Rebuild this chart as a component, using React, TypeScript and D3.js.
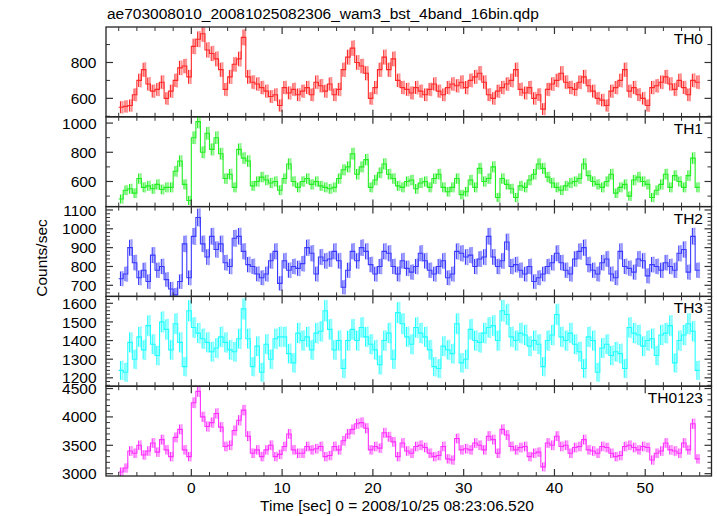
import React from 'react';
import * as d3 from 'd3';

const TITLE = 'ae703008010_20081025082306_wam3_bst_4band_16bin.qdp';
const X_LABEL = 'Time [sec] 0 = 2008/10/25 08:23:06.520';
const Y_LABEL = 'Counts/sec';
const BAND_NAMES = ['TH0', 'TH1', 'TH2', 'TH3', 'TH0123'];
const BIN_START = -8;
const BIN_WIDTH = 0.5;
const X_MAJOR_TICKS = [0, 10, 20, 30, 40, 50];

const TH0 = [550,555,560,620,700,760,680,640,650,690,600,640,700,770,780,720,890,930,960,870,850,820,760,650,720,790,820,940,720,690,680,660,640,610,620,560,660,630,650,620,640,660,620,690,670,640,680,620,650,760,830,880,800,
780,740,600,660,760,830,760,820,700,660,650,630,660,640,620,650,680,640,620,660,680,670,690,660,700,720,740,690,620,600,640,660,680,700,760,650,630,660,600,620,540,650,680,700,740,690,660,650,690,720,670,640,600,590,560,640,660,700,760,640,660,620,600,560,660,670,690,720,680,650,700,660,620,700,690];

const TH1 = [480,540,550,520,620,560,570,550,580,545,560,560,670,740,580,470,900,1010,800,930,820,900,790,620,650,560,820,760,740,570,600,630,610,590,600,540,620,720,600,560,600,620,580,600,570,560,550,560,620,680,700,790,650,
700,750,560,610,660,720,650,620,570,560,600,610,550,590,600,560,620,650,560,530,560,620,510,530,610,560,690,600,620,700,490,620,580,550,490,570,560,610,650,720,690,630,590,560,540,570,590,600,620,720,640,600,580,560,600,650,520,560,580,500,610,630,600,580,490,540,580,650,560,640,600,560,640,760,560];

const TH2 = [735,760,900,820,740,780,720,860,780,800,730,680,650,720,920,740,960,1060,920,850,960,890,920,820,800,950,960,880,810,800,760,740,760,830,880,710,830,780,800,790,815,900,870,760,850,830,840,880,830,690,780,880,830,
900,880,810,760,800,880,870,800,760,830,790,770,800,870,830,780,760,800,830,740,760,880,870,850,860,800,840,850,960,850,800,830,930,800,810,780,760,800,720,740,760,800,820,870,820,780,760,840,880,900,810,780,760,820,840,760,740,880,800,790,770,840,830,750,810,800,780,820,800,780,870,890,770,960,780];

const TH3 = [1240,1230,1390,1300,1420,1350,1480,1380,1320,1500,1460,1350,1490,1390,1260,1560,1470,1440,1410,1390,1340,1360,1420,1390,1350,1340,1410,1570,1410,1260,1370,1230,1380,1300,1410,1420,1420,1330,1280,1440,1400,1420,1350,1440,1450,1560,1460,1350,1400,1250,1400,1460,1400,
1470,1420,1380,1350,1270,1400,1440,1300,1550,1490,1420,1380,1470,1440,1420,1350,1260,1250,1370,1350,1330,1490,1280,1300,1460,1400,1390,1440,1470,1480,1400,1560,1540,1420,1400,1440,1430,1370,1400,1380,1260,1400,1430,1540,1420,1400,1440,1380,1340,1250,1420,1400,1230,1360,1380,1320,1340,1330,1250,1470,1440,1430,1370,1400,1410,1320,1430,1440,1480,1280,1400,1430,1490,1450,1240];

const TH0123 = [3030,3100,3400,3360,3500,3330,3400,3540,3380,3600,3420,3300,3640,3780,3420,3300,4250,4450,4000,3830,3900,4060,3820,3480,3500,3760,3940,4120,3660,3360,3420,3300,3420,3500,3300,3340,3480,3700,3420,3360,3360,3480,3420,3440,3480,3300,3320,3480,3420,3580,3700,3780,3880,
3900,3800,3420,3480,3450,3720,3650,3560,3300,3540,3400,3360,3480,3500,3460,3360,3300,3320,3480,3260,3240,3620,3420,3440,3420,3540,3500,3420,3660,3600,3360,3780,3680,3480,3420,3460,3480,3300,3360,3380,3120,3540,3500,3660,3480,3500,3360,3460,3480,3600,3420,3400,3360,3480,3460,3360,3300,3320,3480,3500,3460,3420,3480,3460,3240,3360,3400,3540,3420,3400,3360,3540,3420,3880,3260];

const SERIES = [TH0, TH1, TH2, TH3, TH0123];
const Y_DOMAINS: [number, number][] = [[497, 998], [428, 1043], [641, 1118], [1155, 1637], [2959, 4541]];
const Y_LABEL_TICKS = [[600, 800], [600, 800, 1000], [700, 800, 900, 1000, 1100], [1200, 1300, 1400, 1500, 1600], [3000, 3500, 4000, 4500]];
const Y_MINOR_STEPS = [100, 100, 20, 20, 100];

const COLORS = ['#ff2828', '#22ee22', '#3a3aff', '#22ffff', '#ff30ff'];

const W = 717, H = 516;
const LEFT = 106, RIGHT = 711.5, TOP = 27, BOTTOM = 476;
const FONT = '"Liberation Sans", Arial, Helvetica, sans-serif';
const FS = 15.5;

export default function App() {
  const x = d3.scaleLinear().domain([-9.4, 57.3]).range([LEFT, RIGHT]);
  const ph = (BOTTOM - TOP) / SERIES.length;
  const xMinor = d3.range(-8, 57, 2).filter(v => !X_MAJOR_TICKS.includes(v));

  return (
    <svg width={W} height={H} style={{ position: 'absolute', left: 0, top: 0, background: '#fff' }} fontFamily={FONT}>
      <defs>
        {SERIES.map((_, k) => (
          <clipPath id={`clip${k}`} key={k}>
            <rect x={LEFT} y={TOP + k * ph} width={RIGHT - LEFT} height={ph} />
          </clipPath>
        ))}
      </defs>
      <text x={107} y={19} fontSize={FS} fill="#000">{TITLE}</text>
      {SERIES.map((vals, k) => {
        const y0 = TOP + k * ph;
        const y1 = y0 + ph;
        const y = d3.scaleLinear().domain(Y_DOMAINS[k]).range([y1, y0]);
        const color = COLORS[k];
        const bins = vals.map((v, i) => {
          const t0 = BIN_START + i * BIN_WIDTH;
          const err = Math.sqrt(v * BIN_WIDTH) / BIN_WIDTH;
          return { t0, t1: t0 + BIN_WIDTH, tc: t0 + BIN_WIDTH / 2, v, err };
        });
        let step = '';
        bins.forEach((b, i) => {
          step += (i === 0 ? 'M' : 'L') + x(b.t0) + ',' + y(b.v) + 'L' + x(b.t1) + ',' + y(b.v);
        });
        const [d0, d1] = Y_DOMAINS[k];
        const minor = d3.range(Math.ceil(d0 / Y_MINOR_STEPS[k]) * Y_MINOR_STEPS[k], d1, Y_MINOR_STEPS[k])
          .filter(v => !Y_LABEL_TICKS[k].includes(v));
        return (
          <g key={k}>
            <g clipPath={`url(#clip${k})`}>
              {bins.map((b, i) => (
                <rect key={'l' + i} x={x(b.tc) + 0.4} width={2.2} y={y(b.v + b.err * 1.05)}
                  height={y(b.v - b.err * 1.05) - y(b.v + b.err * 1.05)} fill={color} opacity={0.5} />
              ))}
              {bins.map((b, i) => (
                <line key={'e' + i} x1={x(b.tc) - 0.5} x2={x(b.tc) - 0.5} y1={y(b.v + b.err)}
                  y2={y(b.v - b.err)} stroke={color} strokeWidth={1.1} />
              ))}
              <path d={step} fill="none" stroke={color} strokeWidth={1.1} />
            </g>
            <rect x={LEFT} y={y0} width={RIGHT - LEFT} height={ph} fill="none" stroke="#222" strokeWidth={1.3} />
            {X_MAJOR_TICKS.map(t => (
              <g key={'xm' + t}>
                <line x1={x(t)} x2={x(t)} y1={y0} y2={y0 + 7} stroke="#333" strokeWidth={1.2} />
                <line x1={x(t)} x2={x(t)} y1={y1} y2={y1 - 7} stroke="#333" strokeWidth={1.2} />
              </g>
            ))}
            {xMinor.map(t => (
              <g key={'xn' + t}>
                <line x1={x(t)} x2={x(t)} y1={y0} y2={y0 + 4} stroke="#333" strokeWidth={1} />
                <line x1={x(t)} x2={x(t)} y1={y1} y2={y1 - 4} stroke="#333" strokeWidth={1} />
              </g>
            ))}
            {Y_LABEL_TICKS[k].map(v => (
              <g key={'ym' + v}>
                <line x1={LEFT} x2={LEFT + 7} y1={y(v)} y2={y(v)} stroke="#333" strokeWidth={1.2} />
                <line x1={RIGHT} x2={RIGHT - 7} y1={y(v)} y2={y(v)} stroke="#333" strokeWidth={1.2} />
                <text x={96.5} y={y(v)} dy="0.36em" textAnchor="end" fontSize={FS} fill="#000">{v}</text>
              </g>
            ))}
            {minor.map(v => (
              <g key={'yn' + v}>
                <line x1={LEFT} x2={LEFT + 4} y1={y(v)} y2={y(v)} stroke="#333" strokeWidth={1} />
                <line x1={RIGHT} x2={RIGHT - 4} y1={y(v)} y2={y(v)} stroke="#333" strokeWidth={1} />
              </g>
            ))}
            <text x={703} y={y0 + 17} textAnchor="end" fontSize={FS} fill="#000">{BAND_NAMES[k]}</text>
          </g>
        );
      })}
      {X_MAJOR_TICKS.map(t => (
        <text key={'xl' + t} x={x(t)} y={493} textAnchor="middle" fontSize={FS} fill="#000">{t}</text>
      ))}
      <text x={397} y={511} textAnchor="middle" fontSize={FS} fill="#000">{X_LABEL}</text>
      <text transform={`translate(47,258) rotate(-90)`} textAnchor="middle" fontSize={FS} fill="#000">{Y_LABEL}</text>
    </svg>
  );
}
